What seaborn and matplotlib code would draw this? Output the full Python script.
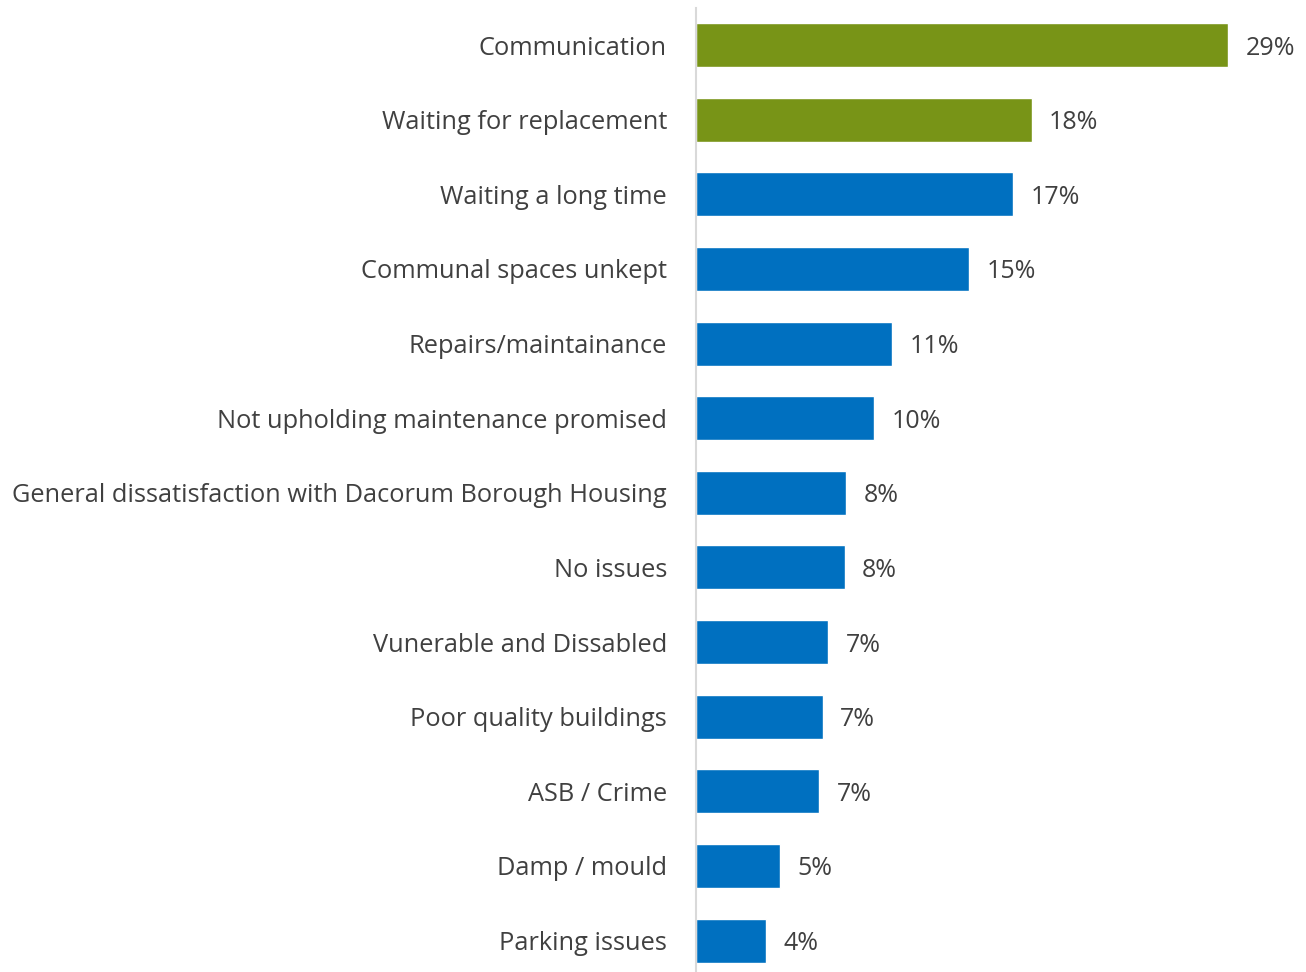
import matplotlib
matplotlib.use("Agg")
import matplotlib.pyplot as plt
import seaborn as sns
import pandas as pd

# data
categorias = ['Communication', 'Waiting for replacement', 'Waiting a long time',
              'Communal spaces unkept', 'Repairs/maintainance',
              'Not upholding maintenance promised',
              'General dissatisfaction with Dacorum Borough Housing',
              'No issues', 'Vunerable and Dissabled', 'Poor quality buildings',
              'ASB / Crime', 'Damp / mould', 'Parking issues']
valores = [29.0, 18.3, 17.3, 14.9, 10.7, 9.7, 8.2, 8.1, 7.2, 6.9, 6.7, 4.6, 3.8]
rotulos = ['29%', '18%', '17%', '15%', '11%', '10%', '8%', '8%', '7%', '7%',
           '7%', '5%', '4%']
destaque = ['sim', 'sim'] + ['nao'] * 11

df = pd.DataFrame({'cat': categorias, 'valor': valores, 'grupo': destaque})

sns.set_style("white")
plt.rcParams['font.family'] = ['Open Sans', 'DejaVu Sans']

fig = plt.figure(figsize=(13.06, 9.72), dpi=100)
ax = fig.add_axes([0.533, -0.006, 0.467, 0.998])

cores = {'sim': '#789417', 'nao': '#0070C0'}
sns.barplot(data=df, x='valor', y='cat', hue='grupo', palette=cores,
            dodge=False, width=0.59, legend=False, ax=ax, saturation=1)

for i, (v, r) in enumerate(zip(valores, rotulos)):
    ax.text(v + 0.95, i, r, va='center_baseline', ha='left', fontsize=18,
            color='#404040')

ax.set_xlim(0, 33.26)
ax.set_ylim(12.5, -0.5)
ax.set_xlabel('')
ax.set_ylabel('')
ax.set_xticks([])
ax.tick_params(axis='y', length=0, pad=21, labelsize=18.3, labelcolor='#404040')
for lado in ['top', 'right', 'bottom']:
    ax.spines[lado].set_visible(False)
ax.spines['left'].set_color('#d9d9d9')
ax.spines['left'].set_linewidth(1.5)

fig.savefig('out.png', dpi=100)
